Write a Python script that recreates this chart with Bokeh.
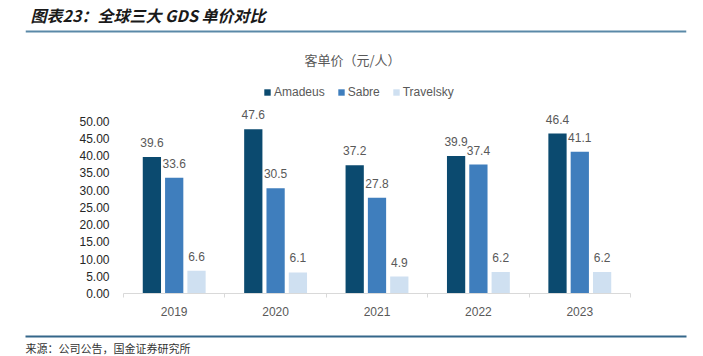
from bokeh.plotting import figure
from bokeh.models import (ColumnDataSource, Range1d, FixedTicker, Legend, LegendItem,
                          Label, Span, LinearAxis, Title)
from bokeh.core.properties import value
from bokeh.embed import file_html
from bokeh.resources import INLINE

years = ["2019", "2020", "2021", "2022", "2023"]
amadeus = [39.6, 47.6, 37.2, 39.9, 46.4]
sabre = [33.6, 30.5, 27.8, 37.4, 41.1]
travelsky = [6.6, 6.1, 4.9, 6.2, 6.2]
series_names = ["Amadeus", "Sabre", "Travelsky"]
colors = ["#0b4a6f", "#3f7ebd", "#cfe0f1"]
y_ticks = [0, 5, 10, 15, 20, 25, 30, 35, 40, 45, 50]
title_text = "图表23：全球三大 GDS 单价对比"
subtitle_text = "客单价（元/人）"
source_text = "来源：公司公告，国金证券研究所"

# ---- layout constants (canvas pixels)
W, H = 703, 356
FL, FR, FB = 25, 686, 294          # frame left/right/bottom; frame top = 0
AX_L, AX_R = 123, 630               # where category axis starts / ends
Y50 = 121                           # canvas y of value 50
ppu_x = (AX_R - AX_L) / len(years)
ppu_y = (FB - Y50) / 50.0

x_range = Range1d(-(AX_L - FL) / ppu_x, len(years) + (FR - AX_R) / ppu_x)
y_range = Range1d(0, FB / ppu_y)

p = figure(width=W, height=H, output_backend="svg", toolbar_location=None,
           x_range=x_range, y_range=y_range,
           min_border_left=FL, min_border_right=W - FR,
           min_border_top=0, min_border_bottom=H - FB)
p.outline_line_color = None
p.grid.visible = False

offsets = [-0.22, 0.0, 0.22]
bw = 0.18
items = []
for k, (name, vals, col) in enumerate(zip(series_names, [amadeus, sabre, travelsky], colors)):
    xs = [i + 0.5 + offsets[k] for i in range(len(years))]
    src = ColumnDataSource(dict(x=xs, top=vals, lab=[f"{v:.1f}" for v in vals]))
    r = p.vbar(x="x", top="top", width=bw, source=src, fill_color=col, line_color=None)
    p.text(x="x", y="top", text="lab", source=src, text_align="center",
           text_baseline="bottom", y_offset=-10, text_font_size="12px",
           text_color="#595959", text_font=value("Liberation Sans"))
    items.append(LegendItem(label=name, renderers=[r]))

# x axis (category axis limited to the bar area)
xa = p.xaxis[0]
xa.bounds = (0, len(years))
xa.ticker = FixedTicker(ticks=[i + 0.5 for i in range(len(years))],
                        minor_ticks=list(range(len(years) + 1)))
xa.major_label_overrides = {i + 0.5: y for i, y in enumerate(years)}
xa.major_tick_line_color = None
xa.major_tick_out = 0
xa.minor_tick_in = 0
xa.minor_tick_out = 4
xa.minor_tick_line_color = "#d9d9d9"
xa.axis_line_color = "#d9d9d9"
xa.major_label_text_font = "Liberation Sans"
xa.major_label_text_font_size = "12px"
xa.major_label_text_color = "#595959"
xa.major_label_standoff = 9
# blank axis label used only as vertical spacing before the bottom rule
xa.axis_label = " "
xa.axis_label_text_font_size = "1px"
xa.axis_label_standoff = 14

# y axis: labels pulled inward so they sit just left of the bars' area
ya = p.yaxis[0]
ya.ticker = FixedTicker(ticks=y_ticks)
ya.major_label_overrides = {t: f"{t:.2f}" for t in y_ticks}
ya.axis_line_color = None
ya.major_tick_line_color = None
ya.major_tick_out = 0
ya.minor_tick_line_color = None
ya.major_label_standoff = -(AX_L - 14 - FL)
ya.major_label_text_font = "Liberation Sans"
ya.major_label_text_font_size = "12px"
ya.major_label_text_color = "#262626"

# bottom rule: an extra bare axis stacked below the category labels
rule = LinearAxis(ticker=FixedTicker(ticks=[]),
                  axis_line_color="#35678a", axis_line_width=2,
                  major_tick_out=0, major_tick_in=0, minor_tick_out=0, minor_tick_in=0,
                  major_label_standoff=0, major_label_text_font_size="0px",
                  major_tick_line_color=None, minor_tick_line_color=None)
p.add_layout(rule, "below")

src_title = Title(text=source_text, align="left", text_font="Noto Sans CJK SC",
                  text_font_size="11px", text_font_style="normal",
                  text_color="#333333", standoff=2)
p.add_layout(src_title, "below")

# top rule
p.add_layout(Span(location=(FB - 31) / ppu_y, dimension="width",
                  line_color="#5a89a8", line_width=2))

legend = Legend(items=items, orientation="horizontal", location=(263 - FL, FB - 100),
                glyph_width=8, glyph_height=8, label_standoff=3, spacing=12,
                padding=0, margin=0, border_line_color=None,
                background_fill_alpha=0, label_text_font="Liberation Sans",
                label_text_font_size="12px", label_text_color="#595959")
p.add_layout(legend, "center")

# screen units are measured from the frame's bottom-left corner
title = Label(x=30 - FL, y=FB - 15, x_units="screen", y_units="screen",
              text=title_text, text_font="Noto Sans CJK SC",
              text_font_style="bold italic", text_font_size="16px", text_color="#1a1a1a",
              text_baseline="middle")
subtitle = Label(x=352 - FL, y=FB - 60, x_units="screen", y_units="screen",
                 text=subtitle_text, text_font="Noto Sans CJK SC",
                 text_font_size="13px", text_color="#595959",
                 text_align="center", text_baseline="middle")
p.add_layout(title)
p.add_layout(subtitle)

open("out.html", "w").write(file_html(p, INLINE))
